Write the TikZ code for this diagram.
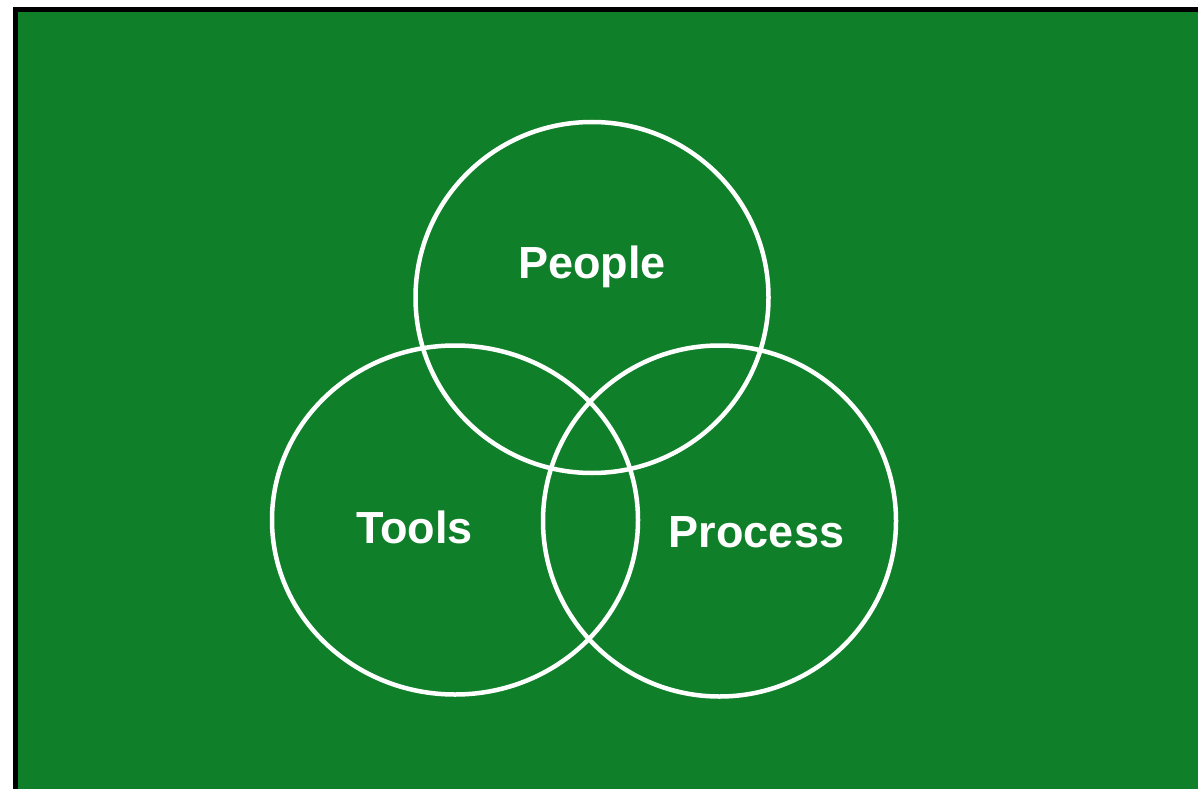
\documentclass[tikz,border=0pt]{standalone}
\usepackage{fontspec}
\setmainfont{Liberation Sans}
\definecolor{bggreen}{RGB}{15,128,41}
\begin{document}
\begin{tikzpicture}[x=1pt,y=-1pt,
  ring/.style={draw=white,line width=4.5pt},
  lbl/.style={text=white,font=\fontsize{45}{52}\selectfont\bfseries,anchor=base,inner sep=0pt}]
\useasboundingbox (0,0) rectangle (1198,789);
\fill[white] (0,0) rectangle (1198,789);
\fill[black] (13,7) rectangle (1198,789);
\fill[bggreen] (18,12) rectangle (1198,789);
\draw[ring] (592,297.5) circle [x radius=176.5, y radius=175.5];
\draw[ring] (455,520) circle [x radius=183, y radius=174.5];
\draw[ring] (719.5,521) circle [x radius=176.5, y radius=175.5];
\node[lbl] (people) at (592,278) {People};
\node[lbl] (tools) at (414.5,543) {Tools};
\node[lbl] (process) at (756.5,547) {Process};
\end{tikzpicture}
\end{document}
